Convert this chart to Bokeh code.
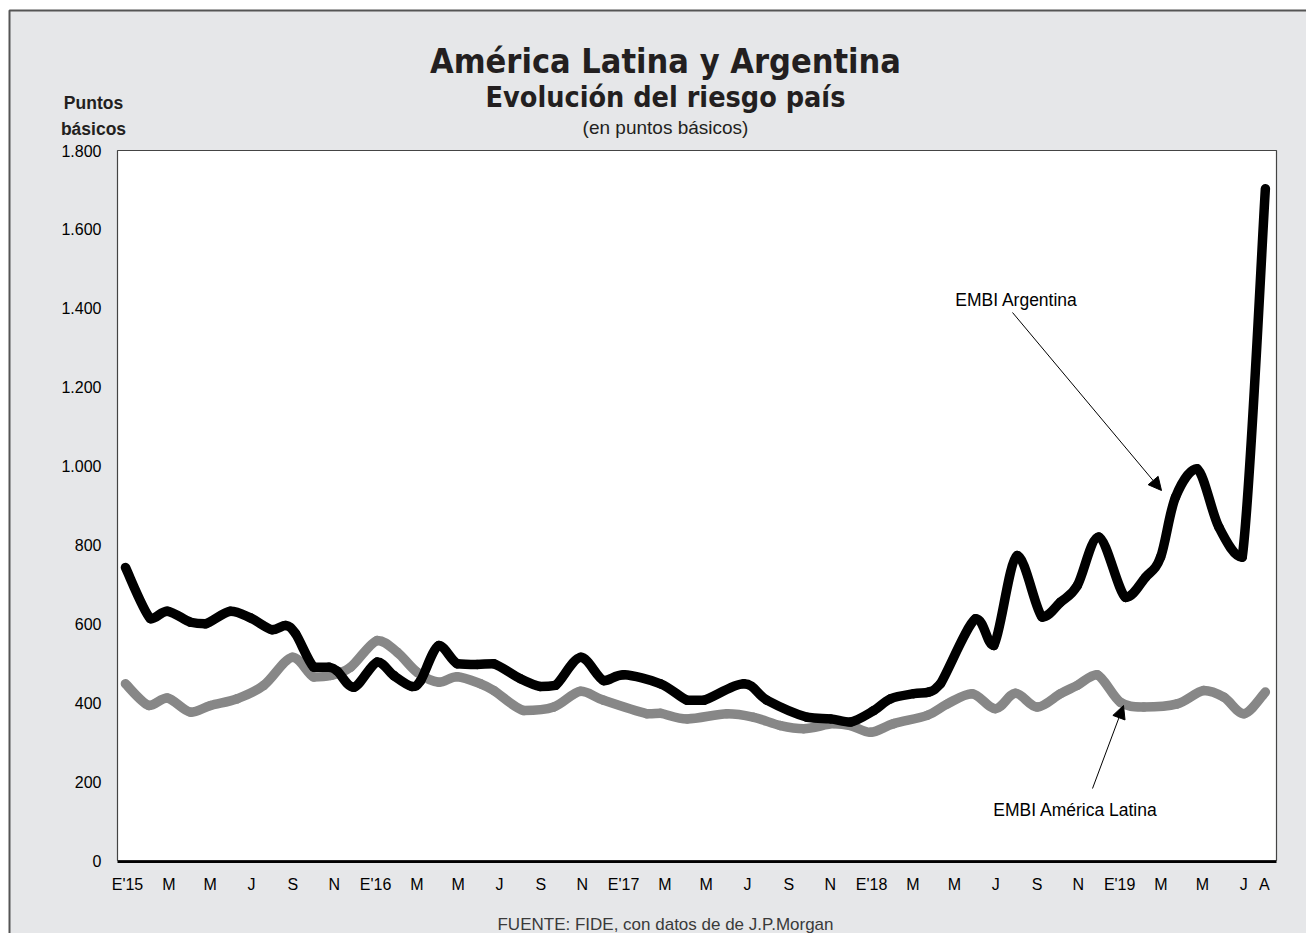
from bokeh.plotting import figure
from bokeh.models import Label, Arrow, NormalHead, FixedTicker, BoxAnnotation, Range1d, LinearAxis
from bokeh.embed import file_html
from bokeh.resources import INLINE

# ---- data (months since Jan 2015) ----
months_arg = [-0.1, 1.11, 1.92, 3.05, 3.77, 4.98, 5.95, 7.0, 7.64, 8.13, 9.01, 9.74, 10.15,
              10.95, 12.08, 12.88, 13.77, 14.18, 15.06, 15.95, 16.92, 17.72, 19.01, 19.98,
              20.71, 21.92, 23.04, 24.01, 25.79, 27.08, 27.88, 29.82, 30.95, 32.88, 34.01,
              34.98, 36.1, 36.91, 38.04, 38.77, 39.33, 41.03, 41.91, 43.04, 44.25, 45.14,
              45.95, 46.99, 48.28, 49.25, 49.98, 50.7, 51.75, 52.8, 53.93, 55.05]
embi_arg = [743, 613, 632, 604, 600, 632, 615, 585, 596, 575, 490, 490, 480,
            439, 503, 469, 441, 456, 545, 499, 497, 499, 461, 441,
            444, 515, 456, 471, 448, 406, 406, 448, 406, 363, 359,
            351, 380, 410, 423, 427, 448, 613, 545, 773, 617, 655,
            697, 820, 667, 718, 769, 921, 993, 845, 769, 1703]

months_lat = [-0.1, 1.03, 1.92, 3.05, 4.02, 5.31, 6.59, 7.97, 9.01, 9.82, 10.79, 12.08,
              13.05, 14.02, 15.06, 15.95, 17.08, 17.72, 19.17, 20.62, 21.92, 23.04, 25.14,
              25.79, 27.08, 29.01, 30.3, 31.59, 32.72, 34.17, 34.98, 35.95, 37.07, 38.69,
              39.66, 40.86, 41.99, 42.96, 44.01, 45.14, 45.95, 46.91, 48.04, 49.17, 50.78,
              52.07, 53.04, 54.01, 55.05]
embi_lat = [448, 393, 412, 376, 393, 410, 444, 515, 465, 469, 490, 558,
            528, 477, 452, 466, 448, 431, 380, 389, 429, 406, 372,
            373, 359, 372, 363, 342, 334, 347, 342, 325, 347, 368,
            397, 423, 385, 424, 389, 423, 444, 471, 401, 389, 397,
            431, 414, 372, 427]

x_ticks = list(range(0, 55, 2)) + [55]
x_labels = ["E'15", "M", "M", "J", "S", "N",
            "E'16", "M", "M", "J", "S", "N",
            "E'17", "M", "M", "J", "S", "N",
            "E'18", "M", "M", "J", "S", "N",
            "E'19", "M", "M", "J", "A"]
y_ticks = [0, 200, 400, 600, 800, 1000, 1200, 1400, 1600, 1800]
y_labels = ["0", "200", "400", "600", "800", "1.000", "1.200", "1.400", "1.600", "1.800"]

title = "América Latina y Argentina"
subtitle = "Evolución del riesgo país"
subsub = "(en puntos básicos)"
source = "FUENTE: FIDE, con datos de de J.P.Morgan"

W, H = 1306, 933
SANS = "Liberation Sans"
HEAVY = "DejaVu Sans Condensed"
GRAY_BG = "#e6e7e9"

# page-pixel helpers for placing decorations and texts (page px -> data)
X0_PX, PX_PER_MONTH = 127.0, 20.67
Y0_PX, PX_PER_UNIT = 860.0, 710.0 / 1800.0
def dx(px):
    return (px - X0_PX) / PX_PER_MONTH
def dy(py):
    return (Y0_PX - py) / PX_PER_UNIT

p = figure(width=W, height=H, output_backend="svg", toolbar_location=None,
           x_axis_location=None, y_axis_location=None,
           x_range=Range1d(dx(0), dx(W)), y_range=Range1d(dy(H), dy(0)))
p.min_border = 0
p.title.visible = False
p.outline_line_color = None
p.border_fill_color = "white"
p.background_fill_color = "white"
p.grid.visible = False

# grey card with its frame
p.add_layout(BoxAnnotation(left=dx(9), right=dx(W + 6), top=dy(10), bottom=dy(H + 6),
                           fill_color=GRAY_BG, fill_alpha=1, line_color="#555555",
                           line_alpha=1, line_width=2, level="underlay"))
# white plotting area
p.add_layout(BoxAnnotation(left=dx(117), right=dx(1276), bottom=0, top=1800,
                           fill_color="white", fill_alpha=1, line_color="#444444",
                           line_alpha=1, line_width=1.2, level="underlay"))

# smooth curves through the read points (Catmull-Rom -> cubic Bezier, no overshoot)
def smooth(xs, ys, color, width):
    n = len(xs)
    x0s, y0s, x1s, y1s, cx0, cy0, cx1, cy1 = [], [], [], [], [], [], [], []
    for i in range(n - 1):
        xa, ya = (xs[i - 1], ys[i - 1]) if i > 0 else (xs[i], ys[i])
        xb, yb = xs[i], ys[i]
        xc, yc = xs[i + 1], ys[i + 1]
        xd, yd = (xs[i + 2], ys[i + 2]) if i + 2 < n else (xc, yc)
        lo, hi = min(yb, yc), max(yb, yc)
        x0s.append(xb); y0s.append(yb); x1s.append(xc); y1s.append(yc)
        cx0.append(xb + (xc - xa) / 6.0); cy0.append(min(hi, max(lo, yb + (yc - ya) / 6.0)))
        cx1.append(xc - (xd - xb) / 6.0); cy1.append(min(hi, max(lo, yc - (yd - yb) / 6.0)))
    p.bezier(x0=x0s, y0=y0s, x1=x1s, y1=y1s, cx0=cx0, cy0=cy0, cx1=cx1, cy1=cy1,
             line_color=color, line_width=width, line_cap="round")

smooth(months_lat, embi_lat, "#878787", 9.5)
smooth(months_arg, embi_arg, "black", 9.5)

# thick baseline of the plotting area
p.add_layout(BoxAnnotation(left=dx(117), right=dx(1276), top=0, bottom=dy(862.5),
                           fill_color="black", fill_alpha=1, line_color=None, level="overlay"))

xaxis = LinearAxis(fixed_location=0, ticker=FixedTicker(ticks=x_ticks))
xaxis.major_label_overrides = {t: l for t, l in zip(x_ticks, x_labels)}
yaxis = LinearAxis(fixed_location=dx(117), ticker=FixedTicker(ticks=y_ticks))
yaxis.major_label_overrides = {t: l for t, l in zip(y_ticks, y_labels)}
for ax in (xaxis, yaxis):
    ax.axis_line_color = None
    ax.major_tick_line_color = None
    ax.minor_tick_line_color = None
    ax.major_label_text_font = SANS
    ax.major_label_text_font_size = "16px"
    ax.major_label_text_color = "black"
xaxis.major_label_standoff = 9
yaxis.major_label_standoff = 10
p.add_layout(xaxis, "below")
p.add_layout(yaxis, "left")

def add_label(text, px, py, size, font, bold=False, color="black", align="center"):
    p.add_layout(Label(x=dx(px), y=dy(py), text=text, text_align=align,
                       text_baseline="alphabetic", text_font=font,
                       text_font_size=size, text_font_style="bold" if bold else "normal",
                       text_color=color))

add_label(title, 665, 60, "34px", HEAVY, bold=True, color="#231f20")
add_label(subtitle, 665, 97, "28.5px", HEAVY, bold=True, color="#231f20")
add_label(subsub, 665, 127, "19px", SANS, color="#231f20")
add_label("Puntos", 93, 102, "17.5px", SANS, bold=True, color="#231f20")
add_label("básicos", 93, 128, "17.5px", SANS, bold=True, color="#231f20")
add_label(source, 665, 924, "17px", SANS, color="#3a3a3a")
add_label("EMBI Argentina", 1016, 299, "17.5px", SANS)
add_label("EMBI América Latina", 1075, 809, "17.5px", SANS)

p.add_layout(Arrow(x_start=dx(1012), y_start=dy(312), x_end=dx(1161), y_end=dy(490),
                   line_color="black", line_width=1,
                   end=NormalHead(size=13, fill_color="black", line_color="black")))
p.add_layout(Arrow(x_start=dx(1092), y_start=dy(788), x_end=dx(1123), y_end=dy(705),
                   line_color="black", line_width=1,
                   end=NormalHead(size=13, fill_color="black", line_color="black")))

open("out.html", "w").write(file_html(p, INLINE))
